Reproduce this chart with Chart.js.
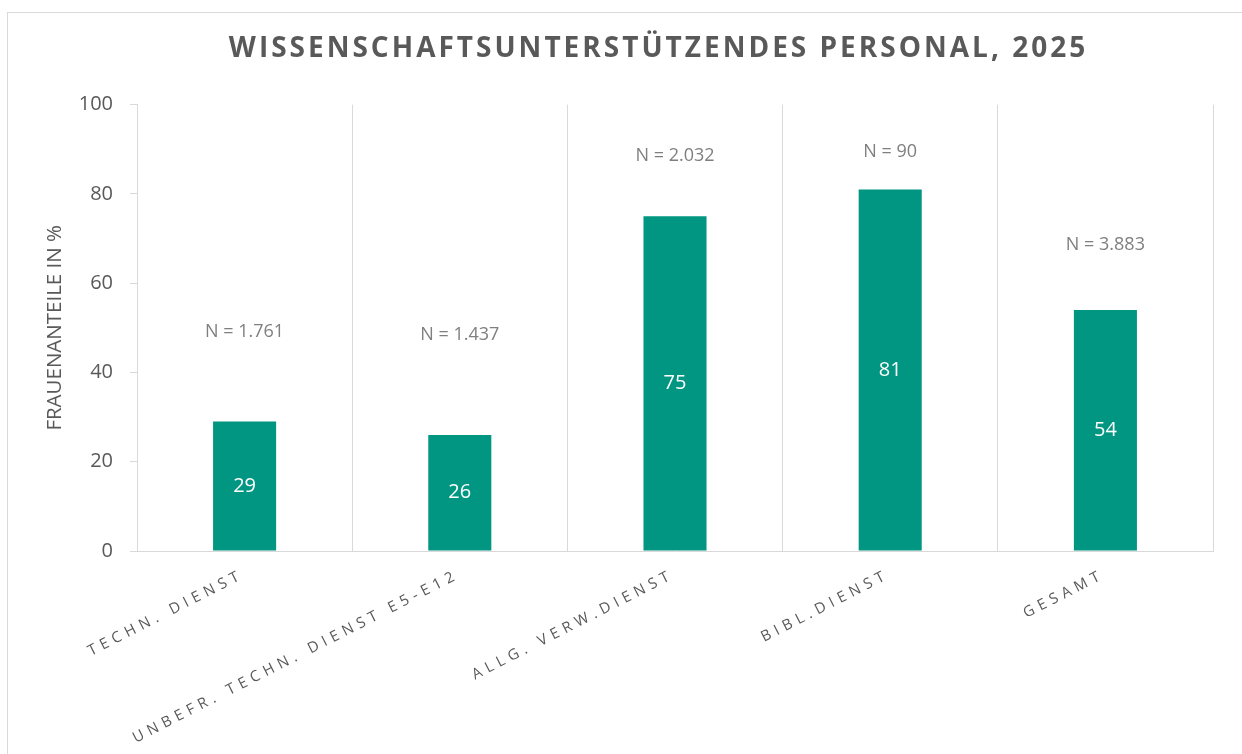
<!DOCTYPE html>
<html><head><meta charset="utf-8">
<script src="https://cdn.jsdelivr.net/npm/chart.js@4/dist/chart.umd.min.js"></script>
<style>html,body{margin:0;padding:0;background:#fff;overflow:hidden}#c{display:block}</style>
</head><body>
<canvas id="c" width="1242" height="754" style="width:1242px;height:754px"></canvas>
<script>
const titleText = 'WISSENSCHAFTSUNTERSTÜTZENDES PERSONAL, 2025';
const yAxisTitle = 'FRAUENANTEILE IN %';
const categories = ['TECHN. DIENST', 'UNBEFR. TECHN. DIENST E5-E12', 'ALLG. VERW.DIENST', 'BIBL.DIENST', 'GESAMT'];
const womenShare = [29, 26, 75, 81, 54];
const nLabels = ['N = 1.761', 'N = 1.437', 'N = 2.032', 'N = 90', 'N = 3.883'];
const nLabelLevel = [49, 48.5, 88.5, 89.5, 68.5];
const yTicks = [0, 20, 40, 60, 80, 100];

const FONT = '"Open Sans", Lato, sans-serif';
const TEXT = '#595959';
const GRID = '#d9d9d9';
const BAR = '#009682';

const deco = {
  id: 'deco',
  beforeDraw(chart) {
    const ctx = chart.ctx;
    ctx.save();
    ctx.strokeStyle = GRID; ctx.lineWidth = 1;
    ctx.strokeRect(7.5, 12.5, 1300, 900);
    ctx.restore();
    if (!chart.$patched) {
      const xs = chart.scales.x;
      const origLabels = xs.drawLabels.bind(xs);
      xs.drawLabels = function (a) { ctx.save(); ctx.letterSpacing = '5px'; ctx.translate(-2, 0); origLabels(a); ctx.restore(); };
      const tb = chart.titleBlock;
      if (tb) {
        const od = tb.draw.bind(tb);
        tb.draw = function () { ctx.save(); ctx.letterSpacing = '3px'; ctx.translate(52, 1); od(); ctx.restore(); };
      }
      chart.$patched = true;
    }
  },
  afterDatasetsDraw(chart) {
    const ctx = chart.ctx;
    const meta = chart.getDatasetMeta(0);
    const ys = chart.scales.y;
    ctx.save();
    ctx.textAlign = 'center';
    ctx.textBaseline = 'middle';
    meta.data.forEach((el, i) => {
      ctx.fillStyle = '#ffffff';
      ctx.font = '20px ' + FONT;
      ctx.fillText(String(womenShare[i]), el.x, (el.y + el.base) / 2);
      ctx.fillStyle = '#7f7f7f';
      ctx.font = '18px ' + FONT;
      ctx.fillText(nLabels[i], el.x, ys.getPixelForValue(nLabelLevel[i]));
    });
    ctx.restore();
  }
};

new Chart(document.getElementById('c'), {
  type: 'bar',
  data: {
    labels: categories,
    datasets: [{
      data: womenShare,
      backgroundColor: BAR,
      borderWidth: 0,
      categoryPercentage: 1,
      barPercentage: 0.293
    }]
  },
  options: {
    responsive: false,
    animation: false,
    devicePixelRatio: 1,
    layout: { padding: { top: 0, left: 0, right: 29, bottom: 0 } },
    plugins: {
      legend: { display: false },
      tooltip: { enabled: false },
      title: {
        display: true,
        text: titleText,
        color: TEXT,
        font: { family: FONT, size: 28, weight: 'bold' },
        padding: { top: 31, bottom: 40 }
      }
    },
    scales: {
      x: {
        grid: { offset: true, color: GRID, drawTicks: false },
        border: { color: GRID },
        ticks: { color: TEXT, font: { family: FONT, size: 15 }, minRotation: 27, maxRotation: 27, padding: 15, autoSkip: false },
        afterFit(s) { s.height = 203; }
      },
      y: {
        min: 0, max: 100,
        afterBuildTicks(s) { s.ticks = yTicks.map(v => ({ value: v })); },
        grid: { drawOnChartArea: false, drawTicks: true, tickLength: 7, color: GRID },
        border: { color: GRID },
        ticks: { color: TEXT, font: { family: FONT, size: 20 }, padding: 17 },
        title: { display: true, text: yAxisTitle, color: TEXT, font: { family: FONT, size: 20.5 }, padding: { top: 43, bottom: 0 } },
        afterFit(s) { s.width = 137; }
      }
    }
  },
  plugins: [deco]
});
</script>
</body></html>
